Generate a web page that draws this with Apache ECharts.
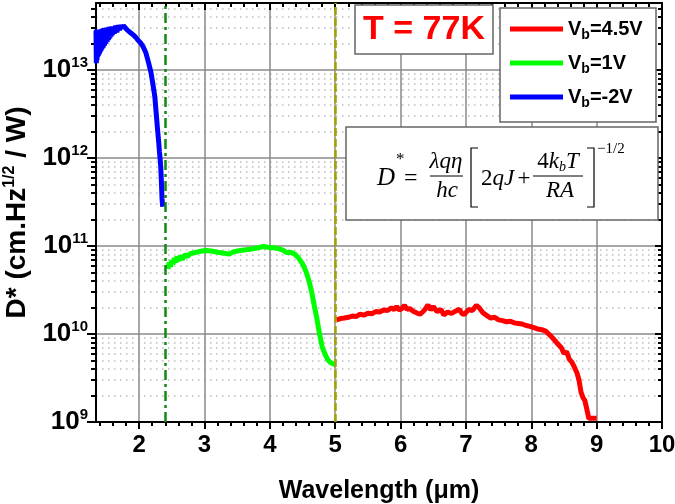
<!DOCTYPE html>
<html><head><meta charset="utf-8">
<script src="https://cdn.jsdelivr.net/npm/echarts@6/dist/echarts.min.js"></script>
<style>html,body{margin:0;padding:0;background:#fff}#c{width:675px;height:504px}</style>
</head><body><div id="c"></div><script>
// ---- data ----
const xMin = 1.34, xMax = 10;
const yMin = 1e9, yMax = 5.8e13;
const xTickLabels = [2,3,4,5,6,7,8,9,10];
const yTickLabels = [1e9,1e10,1e11,1e12,1e13];
const seriesNames = ['Vb=4.5V','Vb=1V','Vb=-2V'];

const blueX = [1.34,1.345,1.35,1.355,1.36,1.365,1.37,1.375,1.38,1.385,1.39,1.395,1.40,1.405,1.41,1.415,1.42,1.425,1.43,1.435,1.44,1.45,1.46,1.47,1.48,1.49,1.50,1.51,1.52,1.53,1.54,1.55,1.56,1.57,1.58,1.59,1.60,1.62,1.64,1.66,1.68,1.70,1.72,1.74,1.76,1.78,1.82,1.86,1.90,1.94,1.98,2.02,2.06,2.10,2.14,2.18,2.21,2.24,2.26,2.28,2.30,2.31,2.32,2.33,2.34,2.35,2.36];
const blueY = [2.8,1.2,2.9,1.3,2.8,1.4,2.9,1.45,2.8,1.5,2.9,1.55,2.9,1.6,2.9,1.65,2.9,1.7,2.95,1.75,2.95,1.8,3.0,1.9,3.0,2.0,3.05,2.1,3.05,2.2,3.1,2.3,3.1,2.4,3.15,2.5,3.15,2.6,3.2,2.7,3.25,2.85,3.25,3.0,3.2,3.05,2.85,2.7,2.55,2.4,2.2,2.05,1.85,1.6,1.25,0.95,0.7,0.5,0.33,0.22,0.15,0.12,0.1,0.08,0.055,0.035,0.028]; // x1e13

const greenX = [2.44,2.46,2.48,2.50,2.52,2.54,2.56,2.58,2.60,2.63,2.66,2.70,2.74,2.78,2.84,2.90,2.96,3.02,3.10,3.20,3.30,3.38,3.44,3.50,3.60,3.70,3.80,3.90,3.96,4.04,4.12,4.20,4.26,4.32,4.38,4.44,4.50,4.55,4.60,4.64,4.68,4.72,4.76,4.80,4.84,4.88,4.92,4.96,5.0];
const greenY = [5.5,6.5,5.8,6.9,6.2,7.3,6.5,7.6,6.8,7.8,7.0,8.0,7.6,8.2,8.4,8.6,8.8,8.9,8.8,8.5,8.3,8.1,8.6,8.8,9.0,9.2,9.5,9.9,9.7,9.6,9.4,9.0,8.4,8.5,8.1,7.3,6.3,5.2,4.0,3.0,2.1,1.5,1.0,0.72,0.6,0.52,0.48,0.46,0.45]; // x1e10

const redX = [5.02,5.08,5.14,5.20,5.26,5.32,5.38,5.44,5.50,5.56,5.62,5.68,5.74,5.80,5.86,5.90,5.94,5.98,6.02,6.06,6.10,6.14,6.20,6.26,6.30,6.36,6.42,6.46,6.50,6.56,6.62,6.66,6.72,6.78,6.84,6.90,6.94,6.98,7.04,7.10,7.16,7.20,7.26,7.32,7.38,7.44,7.50,7.56,7.62,7.68,7.74,7.80,7.86,7.92,7.98,8.04,8.10,8.16,8.22,8.28,8.34,8.40,8.46,8.50,8.54,8.58,8.62,8.66,8.70,8.73,8.76,8.79,8.82,8.85,8.88,8.92,8.96,9.0];
const redY = [1.45,1.5,1.52,1.55,1.6,1.58,1.68,1.64,1.72,1.7,1.8,1.78,1.88,1.85,1.98,1.9,2.05,1.88,1.95,2.12,1.9,1.95,1.8,1.72,1.68,1.85,2.15,1.88,2.05,1.8,1.9,1.65,1.78,1.72,1.82,1.92,1.7,1.68,1.9,1.85,2.12,2.0,1.75,1.62,1.52,1.55,1.45,1.42,1.38,1.4,1.34,1.32,1.3,1.25,1.22,1.18,1.14,1.12,1.08,0.98,0.88,0.78,0.7,0.6,0.63,0.52,0.48,0.42,0.36,0.3,0.22,0.19,0.175,0.14,0.11,0.11,0.11,0.11]; // x1e10

const vLineGreen = 2.4, vLineOlive = 5.0;

// ---- derived tick positions ----
const xMinor = [];
for (let v = 1.4; v < 10; v += 0.2) { const r = Math.round(v*10)/10; if (Math.abs(r - Math.round(r)) > 1e-6) xMinor.push(r); }
const yMinor = [];
for (let e = 9; e <= 13; e++) for (let m = 2; m <= 9; m++) { const v = m*Math.pow(10,e); if (v < yMax) yMinor.push(v); }

const FONT = '"Liberation Sans", Arial, sans-serif';
const SERIF = '"Liberation Serif", "Times New Roman", serif';
const gridColor = '#8a8a8a';

function xAxisDef(pos, major, inside) {
  return {
    type: 'value', position: pos, min: xMin, max: xMax, minInterval: 1, maxInterval: 1,
    axisLine: { show: major, onZero: false, lineStyle: { color: '#000', width: 2 } },
    axisTick: { show: true, inside: inside, length: major ? 7 : 4, customValues: major ? xTickLabels : xMinor, lineStyle: { color: '#000', width: 2 } },
    axisLabel: pos === 'bottom' && major ? { show: true, customValues: xTickLabels, margin: 11, fontFamily: FONT, fontWeight: 'bold', fontSize: 24, color: '#000' } : { show: false },
    splitLine: { show: pos === 'bottom' && major, lineStyle: { color: gridColor, width: 1.5 } },
    name: pos === 'bottom' && major ? 'Wavelength (\u03bcm)' : '',
    nameLocation: 'middle', nameGap: 57,
    nameTextStyle: { fontFamily: FONT, fontWeight: 'bold', fontSize: 25, color: '#000' }
  };
}
function yAxisDef(pos, major, inside) {
  return {
    type: 'log', logBase: 10, position: pos, min: yMin, max: yMax,
    axisLine: { show: major, onZero: false, lineStyle: { color: '#000', width: 2 } },
    axisTick: { show: true, inside: inside, length: major ? (inside ? 7 : 9) : (inside ? 4 : 5), customValues: major ? yTickLabels : yMinor, lineStyle: { color: '#000', width: 2 } },
    axisLabel: pos === 'left' && major ? {
      show: true, customValues: yTickLabels, margin: 8,
      formatter: v => '{a|10}{e|' + Math.round(Math.log10(v)) + '}',
      rich: {
        a: { fontFamily: FONT, fontWeight: 'bold', fontSize: 26, color: '#000' },
        e: { fontFamily: FONT, fontWeight: 'bold', fontSize: 15, color: '#000', padding: [0, 0, 15, 0] }
      }
    } : { show: false },
    splitLine: pos === 'left' ? (major ? { show: true, lineStyle: { color: gridColor, width: 1.5 } } : { show: true, lineStyle: { color: '#bdbdbd', width: 1.5, type: [1.5, 4.5] } }) : { show: false },
    name: pos === 'left' && major ? '{t|D* (cm.Hz}{s|1/2}{t| / W)}' : '',
    nameLocation: 'middle', nameGap: 54, nameRotate: 90,
    nameTextStyle: {
      rich: {
        t: { fontFamily: FONT, fontWeight: 'bold', fontSize: 28, color: '#000' },
        s: { fontFamily: FONT, fontWeight: 'bold', fontSize: 16, color: '#000', padding: [0, 0, 15, 0] }
      }
    }
  };
}

function pairs(xs, ys, k) { return xs.map((x, i) => [x, ys[i] * k]); }

const option = {
  backgroundColor: '#fff',
  animation: false,
  grid: { left: 96, right: 13, top: 3, bottom: 82, containLabel: false, outerBoundsMode: 'none' },
  xAxis: [xAxisDef('bottom', true, false), xAxisDef('bottom', false, false), xAxisDef('top', true, true), xAxisDef('top', false, true)],
  yAxis: [yAxisDef('left', true, false), yAxisDef('left', false, false), yAxisDef('right', true, true), yAxisDef('right', false, true)],
  legend: {
    orient: 'vertical', left: 505, top: 14, itemWidth: 53, itemHeight: 5, itemGap: 11, icon: 'rect', z: 20,
    data: seriesNames,
    formatter: n => '{v|V}{s|b}{v|' + n.slice(2) + '}',
    textStyle: {
      rich: {
        v: { fontFamily: FONT, fontWeight: 'bold', fontSize: 20, color: '#000', lineHeight: 24 },
        s: { fontFamily: FONT, fontWeight: 'bold', fontSize: 14, color: '#000', padding: [12, 0, 0, 0] }
      }
    }
  },
  series: [
    { name: 'Vb=4.5V', type: 'line', showSymbol: false, data: pairs(redX, redY, 1e10), color: '#ff0000', lineStyle: { width: 5, color: '#ff0000' }, z: 3,
      markLine: { silent: true, symbol: ['none', 'none'], label: { show: false },
        data: [
          { xAxis: vLineGreen, lineStyle: { color: '#128a12', width: 2.5, type: [10, 4, 3, 4] } },
          { xAxis: vLineOlive, lineStyle: { color: '#a3a300', width: 2.5, type: [8, 3] } }
        ] } },
    { name: 'Vb=1V', type: 'line', showSymbol: false, data: pairs(greenX, greenY, 1e10), color: '#00ff00', lineStyle: { width: 5, color: '#00ff00' }, z: 3 },
    { name: 'Vb=-2V', type: 'line', showSymbol: false, data: pairs(blueX, blueY, 1e13), color: '#0000ff', lineStyle: { width: 5, color: '#0000ff' }, z: 3 }
  ],
  graphic: [
    // T = 77K box
    { type: 'rect', z: 10, shape: { x: 355, y: 5, width: 138, height: 49 }, style: { fill: '#fff', stroke: '#666', lineWidth: 1.5 } },
    { type: 'text', z: 11, x: 424, y: 30, style: { text: 'T = 77K', font: 'bold 34px ' + FONT, fill: '#ff0000', align: 'center', verticalAlign: 'middle' } },
    // legend box
    { type: 'rect', z: 10, shape: { x: 500, y: 8, width: 156, height: 114 }, style: { fill: '#fff', stroke: '#666', lineWidth: 1.5 } },
    // equation box
    { type: 'rect', z: 10, shape: { x: 346, y: 127, width: 312, height: 93 }, style: { fill: '#fff', stroke: '#666', lineWidth: 1.5 } },
    { type: 'text', z: 11, x: 377, y: 178, style: { text: 'D', font: 'italic 25px ' + SERIF, fill: '#000', verticalAlign: 'middle' } },
    { type: 'text', z: 11, x: 396, y: 160, style: { text: '*', font: '17px ' + SERIF, fill: '#000', verticalAlign: 'middle' } },
    { type: 'text', z: 11, x: 404, y: 179, style: { text: '=', font: '24px ' + SERIF, fill: '#000', verticalAlign: 'middle' } },
    { type: 'text', z: 11, x: 446, y: 162, style: { text: '\u03bbq\u03b7', font: 'italic 23px ' + SERIF, fill: '#000', align: 'center', verticalAlign: 'middle' } },
    { type: 'line', z: 11, shape: { x1: 430, y1: 176, x2: 463, y2: 176 }, style: { stroke: '#000', lineWidth: 1 } },
    { type: 'text', z: 11, x: 447, y: 191, style: { text: 'hc', font: 'italic 23px ' + SERIF, fill: '#000', align: 'center', verticalAlign: 'middle' } },
    { type: 'polyline', z: 11, shape: { points: [[478, 148], [471, 148], [471, 207], [478, 207]] }, style: { stroke: '#000', lineWidth: 1.2, fill: null } },
    { type: 'text', z: 11, x: 481, y: 179, style: { text: '{n|2}{i|qJ} {n|+}', rich: { n: { font: '23px ' + SERIF, fill: '#000' }, i: { font: 'italic 23px ' + SERIF, fill: '#000' } }, verticalAlign: 'middle' } },
    { type: 'text', z: 11, x: 558, y: 162, style: { text: '{n|4}{i|k}{s|b}{i|T}', rich: { n: { font: '23px ' + SERIF, fill: '#000' }, i: { font: 'italic 23px ' + SERIF, fill: '#000' }, s: { font: 'italic 14px ' + SERIF, fill: '#000', padding: [10, 0, 0, 0] } }, align: 'center', verticalAlign: 'middle' } },
    { type: 'line', z: 11, shape: { x1: 533, y1: 176, x2: 583, y2: 176 }, style: { stroke: '#000', lineWidth: 1 } },
    { type: 'text', z: 11, x: 560, y: 191, style: { text: 'RA', font: 'italic 23px ' + SERIF, fill: '#000', align: 'center', verticalAlign: 'middle' } },
    { type: 'polyline', z: 11, shape: { points: [[587, 148], [594, 148], [594, 207], [587, 207]] }, style: { stroke: '#000', lineWidth: 1.2, fill: null } },
    { type: 'text', z: 11, x: 597, y: 149, style: { text: '\u22121/2', font: '15px ' + SERIF, fill: '#000', verticalAlign: 'middle' } }
  ]
};
const chart = echarts.init(document.getElementById('c'), null, { renderer: 'canvas' });
chart.setOption(option);
</script></body></html>
